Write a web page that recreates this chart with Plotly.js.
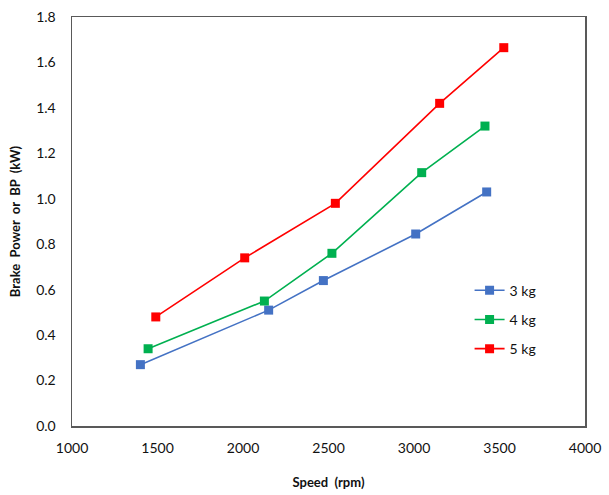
<!DOCTYPE html>
<html>
<head>
<meta charset="utf-8">
<script src="https://cdn.plot.ly/plotly-3.0.1.min.js"></script>
<style>html,body{margin:0;padding:0;background:#fff;}#chart{width:609px;height:495px;}</style>
</head>
<body>
<div id="chart"></div>
<script>
const seriesNames = ["3 kg", "4 kg", "5 kg"];
const speed3 = [1400, 2150, 2470, 3010, 3425];
const bp3 = [0.27, 0.51, 0.64, 0.845, 1.03];
const speed4 = [1445, 2125, 2520, 3045, 3415];
const bp4 = [0.34, 0.55, 0.76, 1.115, 1.32];
const speed5 = [1490, 2010, 2540, 3150, 3525];
const bp5 = [0.48, 0.74, 0.98, 1.42, 1.665];
const colors = ["#4472C4", "#00B050", "#FF0000"];
const xTicks = [1000, 1500, 2000, 2500, 3000, 3500, 4000];
const yTicks = [0, 0.2, 0.4, 0.6, 0.8, 1.0, 1.2, 1.4, 1.6, 1.8];

const xs = [speed3, speed4, speed5];
const ys = [bp3, bp4, bp5];
const traces = seriesNames.map((n, i) => ({
  x: xs[i], y: ys[i], name: n, type: 'scatter', mode: 'lines+markers',
  legendgroup: 'g' + i,
  line: {color: colors[i], width: 1.6},
  marker: {symbol: 'square', size: 9, color: colors[i]}
}));

const fontFam = 'Lato, "Open Sans", sans-serif';
const layout = {
  width: 609, height: 495,
  margin: {l: 72, r: 24, t: 17, b: 69},
  paper_bgcolor: '#fff', plot_bgcolor: '#fff',
  font: {family: fontFam, color: '#111', size: 14},
  showlegend: true,
  legend: {x: 0.775, y: 0.37, xanchor: 'left', yanchor: 'top', bgcolor: 'rgba(0,0,0,0)',
           font: {family: fontFam, size: 14, color: '#111'}, tracegroupgap: 8, itemwidth: 30},
  xaxis: {
    range: [1000, 4000], tickvals: xTicks, ticktext: xTicks.map(String),
    showgrid: false, zeroline: false, showline: true, linecolor: '#595959', linewidth: 1.5, mirror: true,
    ticks: 'outside', ticklen: 9, tickcolor: 'rgba(0,0,0,0)',
    tickfont: {family: fontFam, size: 14, color: '#111'},
    title: {text: '<b>Speed  (rpm)</b>', font: {family: fontFam, size: 13, color: '#111'}, standoff: 22}
  },
  yaxis: {
    range: [0, 1.8], tickvals: yTicks, ticktext: yTicks.map(v => v.toFixed(1)),
    showgrid: false, zeroline: false, showline: true, linecolor: '#595959', linewidth: 1.5, mirror: true,
    ticks: 'outside', ticklen: 12, tickcolor: 'rgba(0,0,0,0)',
    tickfont: {family: fontFam, size: 14, color: '#111'},
    title: {text: '<b>Brake  Power  or  BP  (kW)</b>', font: {family: fontFam, size: 13, color: '#111'}, standoff: 12}
  }
};
Plotly.newPlot('chart', traces, layout, {displayModeBar: false, staticPlot: true});
</script>
</body>
</html>
